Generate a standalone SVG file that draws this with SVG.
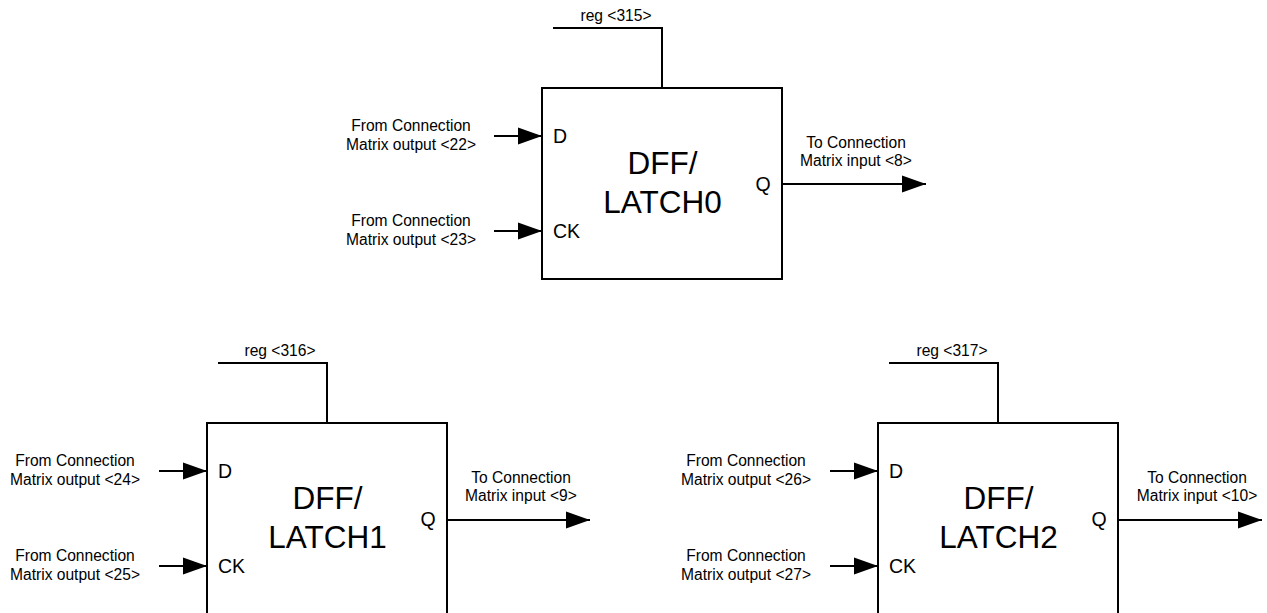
<svg xmlns="http://www.w3.org/2000/svg" width="1267" height="613" viewBox="0 0 1267 613">
<style>
.box{fill:#fff;stroke:#000;stroke-width:2}
.wire{fill:none;stroke:#000;stroke-width:2}
.arr{fill:none;stroke:#000;stroke-width:2;marker-end:url(#ah)}
.lbl{font-family:"Liberation Sans",Arial,sans-serif;font-size:15.6px;fill:#000;text-anchor:middle}
.pin{font-family:"Liberation Sans",Arial,sans-serif;font-size:19.5px;fill:#000}
.title{font-family:"Liberation Sans",Arial,sans-serif;font-size:31.5px;fill:#000;text-anchor:middle}
</style>
<defs>
<marker id="ah" markerUnits="userSpaceOnUse" markerWidth="26" markerHeight="20" viewBox="0 0 26 20" refX="25" refY="10" orient="auto">
<path d="M1,1.5 L25,10 L1,18.5 Z" fill="#000"/>
</marker>
</defs>
<rect width="1267" height="613" fill="#fff"/>

<g id="node-latch0">
<rect class="box" x="542" y="88" width="240" height="191"/>
<text class="pin" x="553" y="143">D</text>
<text class="pin" x="553" y="238">CK</text>
<text class="pin" x="763" y="191" text-anchor="middle">Q</text>
<text class="title" x="662.5" y="174">DFF/</text>
<text class="title" x="662.5" y="213">LATCH0</text>
</g>

<g id="node-latch1">
<rect class="box" x="207" y="423" width="240" height="191"/>
<text class="pin" x="218" y="478">D</text>
<text class="pin" x="218" y="573">CK</text>
<text class="pin" x="428" y="526" text-anchor="middle">Q</text>
<text class="title" x="327.5" y="509">DFF/</text>
<text class="title" x="327.5" y="548">LATCH1</text>
</g>

<g id="node-latch2">
<rect class="box" x="878" y="423" width="240" height="191"/>
<text class="pin" x="889" y="478">D</text>
<text class="pin" x="889" y="573">CK</text>
<text class="pin" x="1099" y="526" text-anchor="middle">Q</text>
<text class="title" x="998.5" y="509">DFF/</text>
<text class="title" x="998.5" y="548">LATCH2</text>
</g>

<g id="connectors">
<path class="wire" d="M553 28 H662 V88"/>
<path class="arr" d="M494 136 H542"/>
<path class="arr" d="M494 231 H542"/>
<path class="arr" d="M782 184 H926"/>

<path class="wire" d="M218 363 H327 V423"/>
<path class="arr" d="M159 471 H207"/>
<path class="arr" d="M159 566 H207"/>
<path class="arr" d="M447 520 H590"/>

<path class="wire" d="M889 363 H998 V423"/>
<path class="arr" d="M830 471 H878"/>
<path class="arr" d="M830 566 H878"/>
<path class="arr" d="M1118 520 H1262"/>
</g>

<g id="labels">
<text class="lbl" x="616" y="21">reg &lt;315&gt;</text>
<text class="lbl" x="411" y="131">From Connection</text>
<text class="lbl" x="411" y="150">Matrix output &lt;22&gt;</text>
<text class="lbl" x="411" y="226">From Connection</text>
<text class="lbl" x="411" y="245">Matrix output &lt;23&gt;</text>
<text class="lbl" x="856" y="148">To Connection</text>
<text class="lbl" x="856" y="166">Matrix input &lt;8&gt;</text>

<text class="lbl" x="280" y="356">reg &lt;316&gt;</text>
<text class="lbl" x="75" y="466">From Connection</text>
<text class="lbl" x="75" y="485">Matrix output &lt;24&gt;</text>
<text class="lbl" x="75" y="561">From Connection</text>
<text class="lbl" x="75" y="580">Matrix output &lt;25&gt;</text>
<text class="lbl" x="521" y="483">To Connection</text>
<text class="lbl" x="521" y="501">Matrix input &lt;9&gt;</text>

<text class="lbl" x="952" y="356">reg &lt;317&gt;</text>
<text class="lbl" x="746" y="466">From Connection</text>
<text class="lbl" x="746" y="485">Matrix output &lt;26&gt;</text>
<text class="lbl" x="746" y="561">From Connection</text>
<text class="lbl" x="746" y="580">Matrix output &lt;27&gt;</text>
<text class="lbl" x="1197" y="483">To Connection</text>
<text class="lbl" x="1197" y="501">Matrix input &lt;10&gt;</text>
</g>
</svg>
